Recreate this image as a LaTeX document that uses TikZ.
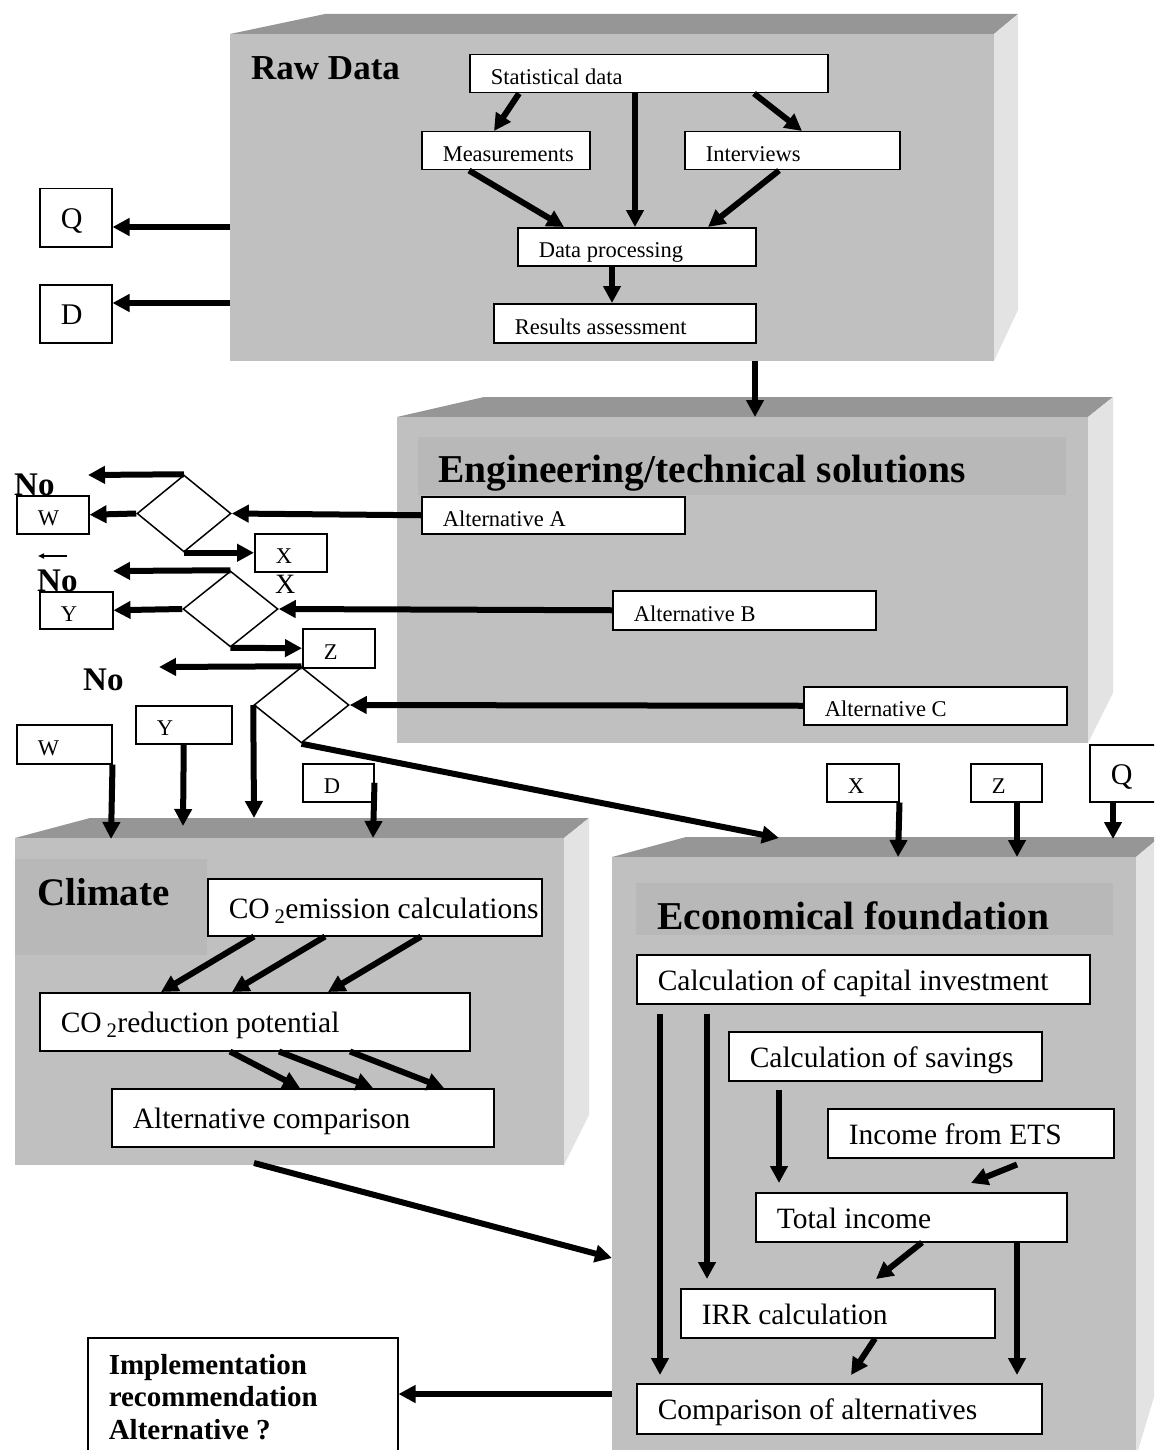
\documentclass[tikz,border=0pt]{standalone}
\usepackage{fontspec}
\setmainfont{Liberation Serif}
\usetikzlibrary{arrows.meta,shapes.geometric}

\definecolor{frontgray}{HTML}{C0C0C0}
\definecolor{topgray}{HTML}{969696}
\definecolor{sidegray}{HTML}{E3E3E3}
\definecolor{bandgray}{HTML}{B8B8B8}

\tikzset{
  blockfront/.style={fill=frontgray},
  blocktop/.style={fill=topgray},
  blockside/.style={fill=sidegray},
  band/.style={fill=bandgray},
  boxbase/.style={draw, fill=white, line width=1.5pt, anchor=north west,
    inner xsep=0pt, inner ysep=0pt, align=left,
    execute at begin node={\leftskip=21pt\relax\spaceskip=0pt\relax\xspaceskip=0pt\relax}},
  flowbox/.style 2 args={boxbase, text width=#1, minimum height=#2,
    text height=22pt, text depth=0pt},
  smalltext/.style={font=\fontsize{22.5}{27}\selectfont},
  bigtext/.style={font=\fontsize{29.5}{35}\selectfont},
  lettertext/.style={font=\fontsize{30}{36}\selectfont},
  headline/.style={anchor=base west, inner sep=0pt, font=\bfseries\fontsize{#1}{#1}\selectfont},
  decision/.style={diamond, draw, line width=1.5pt, inner sep=0pt},
  flow/.style={line width=6pt, -{Triangle[length=17pt,width=17pt]}},
}

\begin{document}
\begin{tikzpicture}[x=1pt,y=-1pt]
  \useasboundingbox (0,0) rectangle (1154,1450);
  \clip (0,0) rectangle (1154,1450);

  % blocks
  \fill[blocktop] (230,34) -- (325,14) -- (1018,14) -- (994,34) -- cycle;
  \fill[blockside] (994,34) -- (1018,14) -- (1018,310) -- (994,361) -- cycle;
  \fill[blockfront] (230,34) rectangle (994,361);

  \fill[blocktop] (397,417) -- (484,397) -- (1113,397) -- (1088,417) -- cycle;
  \fill[blockside] (1088,417) -- (1113,397) -- (1113,693) -- (1088,743) -- cycle;
  \fill[blockfront] (397,417) rectangle (1088,743);
  \fill[band] (418,437) rectangle (1066,495);

  \fill[blocktop] (15,838) -- (90,818) -- (589,818) -- (564,838) -- cycle;
  \fill[blockside] (564,838) -- (589,818) -- (589,1115) -- (564,1165) -- cycle;
  \fill[blockfront] (15,838) rectangle (564,1165);
  \fill[band] (15,859) rectangle (207,955);

  \fill[blocktop] (612,857) -- (686,837) -- (1160,837) -- (1136,857) -- cycle;
  \fill[blockside] (1136,857) -- (1160,837) -- (1160,1377) -- (1136,1457) -- cycle;
  \fill[blockfront] (612,857) rectangle (1136,1460);
  \fill[band] (636,883) rectangle (1113,935);

  % titles
  \node[headline=35] (rawtitle) at (251,80) {Raw Data};
  \node[headline=39.5] (engtitle) at (438,482) {Engineering/technical solutions};
  \node[headline=39] (climtitle) at (37,905) {Climate};
  \node[headline=39.5] (econtitle) at (657,929) {Economical foundation};
  \node[headline=33] (no1txt) at (14,495) {No};
  \node[headline=33] (no2txt) at (37,591) {No};
  \node[headline=33] (no3txt) at (83,690) {No};
  \node[anchor=base west, inner sep=0pt, font=\fontsize{28}{30}\selectfont] (xmark) at (275,593) {X};

  % raw data
  \node[flowbox={358pt}{38pt}, smalltext] (stat) at (469,54) {Statistical data};
  \node[flowbox={168pt}{38pt}, smalltext] (meas) at (421,131) {Measurements};
  \node[flowbox={215pt}{38pt}, smalltext] (intv) at (684,131) {Interviews};
  \node[flowbox={238pt}{38pt}, smalltext] (proc) at (517,227) {Data processing};
  \node[flowbox={262pt}{39pt}, smalltext] (res) at (493,303) {Results assessment};
  \node[flowbox={72pt}{58pt}, lettertext] (Qa) at (39,188) {Q};
  \node[flowbox={72pt}{58pt}, lettertext] (Da) at (39,284) {D};

  % engineering
  \node[flowbox={263pt}{37pt}, smalltext] (altA) at (421,496) {Alternative A};
  \node[flowbox={263pt}{39pt}, smalltext] (altB) at (612,590) {Alternative B};
  \node[flowbox={263pt}{38pt}, smalltext] (altC) at (803,686) {Alternative C};
  \node[decision, minimum width=94pt, minimum height=77pt] (d1) at (184,513.5) {};
  \node[decision, minimum width=95pt, minimum height=76pt] (d2) at (230.5,609) {};
  \node[decision, minimum width=95pt, minimum height=76pt] (d3) at (301.5,705) {};
  \node[flowbox={72pt}{38pt}, smalltext] (Wa) at (16,495) {W};
  \node[flowbox={72pt}{38pt}, smalltext] (Xa) at (254,533) {X};
  \node[flowbox={73pt}{37pt}, smalltext] (Ya) at (39,591) {Y};
  \node[flowbox={72pt}{39pt}, smalltext] (Za) at (302,628) {Z};
  \node[flowbox={95pt}{39pt}, smalltext] (Wb) at (16,724) {W};
  \node[flowbox={96pt}{38pt}, smalltext] (Yb) at (135,705) {Y};
  \node[flowbox={71pt}{38pt}, smalltext] (Db) at (302,763) {D};
  \node[flowbox={72pt}{38pt}, smalltext] (Xb) at (826,763) {X};
  \node[flowbox={71pt}{38pt}, smalltext] (Zb) at (970,763) {Z};
  \node[flowbox={75pt}{57pt}, lettertext] (Qb) at (1089,744) {Q};

  % climate
  \node[flowbox={334pt}{57pt}, bigtext] (em) at (207,878) {CO\,\textsubscript{2}emission calculations};
  \node[flowbox={430pt}{58pt}, bigtext] (red) at (39,992) {CO\,\textsubscript{2}reduction potential};
  \node[flowbox={382pt}{58pt}, bigtext] (cmp) at (111,1088) {Alternative comparison};

  % economical foundation
  \node[flowbox={453pt}{49pt}, bigtext] (cap) at (636,954) {Calculation of capital investment};
  \node[flowbox={313pt}{49pt}, bigtext] (sav) at (728,1031) {Calculation of savings};
  \node[flowbox={286pt}{49pt}, bigtext] (ets) at (827,1108) {Income from ETS};
  \node[flowbox={311pt}{49pt}, bigtext] (tot) at (755,1192) {Total income};
  \node[flowbox={314pt}{49pt}, bigtext] (irr) at (680,1288) {IRR calculation};
  \node[flowbox={405pt}{50pt}, bigtext] (cmpA) at (636,1383) {Comparison of alternatives};
  \node[boxbase, text width=310pt, minimum height=118pt,
        font=\bfseries\fontsize{29}{32.5}\selectfont] (impl) at (87,1337)
        {Implementation\\recommendation\\Alternative ?};

  % free ends
  \coordinate (rawQ) at (230,227);
  \coordinate (rawD) at (230,303);
  \coordinate (rawOut) at (755,361);
  \coordinate (engIn) at (755,417);
  \coordinate (no1) at (88,475);
  \coordinate (no2) at (113,571);
  \coordinate (no3) at (159,667);
  \coordinate (stray) at (67,556);
  \coordinate (strayEnd) at (38,556);
  \coordinate (climIn) at (254,818);
  \coordinate (climW) at (111,839);
  \coordinate (climY) at (183,826);
  \coordinate (climD) at (373,838);
  \coordinate (climOut) at (254,1163);
  \coordinate (econIn) at (779,838);
  \coordinate (econIn2) at (612,1258);
  \coordinate (econX) at (898,857);
  \coordinate (econZ) at (1017,857);
  \coordinate (econQ) at (1113,839);
  \coordinate (econOut) at (612,1394);

  % raw data arrows
  \draw[flow] ([xshift=50pt]stat.south west) -- ([xshift=73pt]meas.north west);
  \draw[flow] ([xshift=166pt]stat.south west) -- ([xshift=118pt]proc.north west);
  \draw[flow] ([xshift=285pt]stat.south west) -- ([xshift=118pt]intv.north west);
  \draw[flow] ([xshift=48pt]meas.south west) -- ([xshift=47pt]proc.north west);
  \draw[flow] ([xshift=95pt]intv.south west) -- ([xshift=191pt]proc.north west);
  \draw[flow] ([xshift=95pt]proc.south west) -- ([xshift=119pt]res.north west);
  \draw[flow] (rawQ) -- (rawQ -| Qa.east);
  \draw[flow] (rawD) -- (rawD -| Da.east);
  \draw[flow] (rawOut) -- (engIn);

  % alternatives and decisions
  \draw[flow] (altA.west) -- (d1.east);
  \draw[flow] (d1.north) -- (no1);
  \draw[flow] (d1.west) -- (Wa.east);
  \draw[flow] (d1.south) -- (Xa.west);
  \draw[flow] (altB.west) -- (d2.east);
  \draw[flow] (d2.north) -- (no2);
  \draw[flow] (d2.west) -- (Ya.east);
  \draw[flow] (d2.south) -- (Za.west);
  \draw[flow] (altC.west) -- (d3.east);
  \draw[flow] (d3.north) -- (no3);
  \draw[flow] (d3.west) -- (climIn);
  \draw[flow] (d3.south) -- (econIn);
  \draw[line width=1.5pt, -{Triangle[length=6pt,width=5pt]}] (stray) -- (strayEnd);

  % inputs to climate and economy
  \draw[flow] (Wb.south east) -- (climW);
  \draw[flow] (Yb.south) -- (climY);
  \draw[flow] (Db.east) -- (climD);
  \draw[flow] (Xb.south east) -- (econX);
  \draw[flow] (econZ |- Zb.south) -- (econZ);
  \draw[flow] (econQ |- Qb.south) -- (econQ);

  % climate arrows
  \draw[flow] ([xshift=47pt]em.south west) -- ([xshift=122pt]red.north west);
  \draw[flow] ([xshift=118pt]em.south west) -- ([xshift=193pt]red.north west);
  \draw[flow] ([xshift=214pt]em.south west) -- ([xshift=289pt]red.north west);
  \draw[flow] ([xshift=191pt]red.south west) -- ([xshift=189pt]cmp.north west);
  \draw[flow] ([xshift=240pt]red.south west) -- ([xshift=262pt]cmp.north west);
  \draw[flow] ([xshift=311pt]red.south west) -- ([xshift=333pt]cmp.north west);
  \draw[flow] (climOut) -- (econIn2);

  % economical arrows
  \draw[flow] ([xshift=24pt,yshift=-9pt]cap.south west) -- ([xshift=24pt,yshift=8pt]cmpA.north west);
  \draw[flow] ([xshift=71pt,yshift=-9pt]cap.south west) -- ([xshift=27pt,yshift=9pt]irr.north west);
  \draw[flow] ([xshift=51pt,yshift=-8pt]sav.south west) -- ([xshift=24pt,yshift=9pt]tot.north west);
  \draw[flow] ([xshift=190pt,yshift=-6pt]ets.south west) -- ([xshift=216pt,yshift=9pt]tot.north west);
  \draw[flow] ([xshift=167pt]tot.south west) -- ([xshift=196pt,yshift=9pt]irr.north west);
  \draw[flow] ([xshift=195pt]irr.south west) -- ([xshift=215pt,yshift=8pt]cmpA.north west);
  \draw[flow] ([xshift=262pt]tot.south west) -- ([xshift=381pt,yshift=8pt]cmpA.north west);
  \draw[flow] (econOut) -- (econOut -| impl.east);
\end{tikzpicture}
\end{document}
